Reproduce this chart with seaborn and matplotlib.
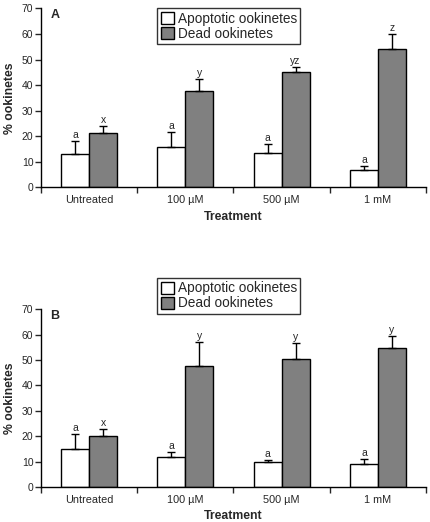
import pandas as pd
import matplotlib
matplotlib.use("Agg")
import matplotlib.pyplot as plt
import seaborn as sns

# data
treatments = ["Untreated", "100 µM", "500 µM", "1 mM"]
series = ["Apoptotic ookinetes", "Dead ookinetes"]

apop_a = [13.0, 15.6, 13.4, 6.8]
apop_a_err = [5.2, 6.0, 3.5, 1.5]
dead_a = [21.4, 37.6, 45.3, 54.2]
dead_a_err = [2.5, 4.8, 1.7, 5.8]
apop_a_letters = ["a", "a", "a", "a"]
dead_a_letters = ["x", "y", "yz", "z"]

apop_b = [14.8, 11.8, 9.9, 9.2]
apop_b_err = [6.2, 2.0, 0.6, 1.7]
dead_b = [20.2, 47.6, 50.4, 54.9]
dead_b_err = [2.6, 9.6, 6.2, 4.6]
apop_b_letters = ["a", "a", "a", "a"]
dead_b_letters = ["x", "y", "y", "y"]

yticks = [0, 10, 20, 30, 40, 50, 60, 70]

sns.set_style("ticks")
plt.rcParams["font.family"] = ["Liberation Sans", "DejaVu Sans"]


def panel(ax, apop, apop_err, dead, dead_err, apop_let, dead_let, tag, leg_top):
    df = pd.DataFrame({
        "Treatment": treatments * 2,
        "type": [series[0]] * 4 + [series[1]] * 4,
        "value": apop + dead,
    })
    sns.barplot(data=df, x="Treatment", y="value", hue="type",
                palette={series[0]: "white", series[1]: "#808080"},
                edgecolor="black", linewidth=1.0, width=0.58, gap=0,
                errorbar=None, saturation=1, ax=ax)

    errs = [apop_err, dead_err]
    lets = [apop_let, dead_let]
    for cont, e_list, l_list in zip(ax.containers, errs, lets):
        for bar, e, lab in zip(cont, e_list, l_list):
            x = bar.get_x() + bar.get_width() / 2
            h = bar.get_height()
            ax.errorbar(x, h, yerr=[[0], [e]], color="black", capsize=3,
                        elinewidth=1.0, capthick=1.0, zorder=1)
            ax.text(x, h + e + 0.4, lab, ha="center", va="bottom", fontsize=7.5)

    ax.set_xlim(-0.5, 3.5)
    ax.set_ylim(0, 70)
    ax.set_yticks(yticks)
    ax.set_xticks(range(4))
    ax.set_xticklabels(treatments)
    ax.set_xticks([-0.5, 0.5, 1.5, 2.5, 3.5], minor=True)
    ax.tick_params(axis="x", which="major", length=0, pad=5.5, labelsize=7.8)
    ax.tick_params(axis="x", which="minor", length=4, width=1, direction="out")
    ax.tick_params(axis="y", length=4, width=1, labelsize=7.5, pad=1.5)
    for s in ["top", "right"]:
        ax.spines[s].set_visible(False)
    for s in ["left", "bottom"]:
        ax.spines[s].set_linewidth(1.0)
        ax.spines[s].set_color("black")

    ax.set_xlabel("Treatment", fontweight="bold", fontsize=8.8, labelpad=4)
    ax.set_ylabel("% ookinetes", fontweight="bold", fontsize=8.8, labelpad=4)
    ax.text(0.025, 0.965, tag, transform=ax.transAxes, fontweight="bold",
            fontsize=9, ha="left", va="center")

    leg = ax.legend(loc="upper left", bbox_to_anchor=(0.302, leg_top),
                    frameon=True, fancybox=False, fontsize=9.8,
                    handlelength=0.95, handleheight=0.95, handletextpad=0.3,
                    borderpad=0.25, labelspacing=0.08, borderaxespad=0)
    leg.get_frame().set_edgecolor("black")
    leg.get_frame().set_linewidth(1.0)
    leg.set_title(None)


fig = plt.figure(figsize=(4.3, 5.22), dpi=100)
ax_a = fig.add_axes([0.0953, 0.641, 0.8954, 0.343])
ax_b = fig.add_axes([0.0953, 0.067, 0.8954, 0.3405])

panel(ax_a, apop_a, apop_a_err, dead_a, dead_a_err,
      apop_a_letters, dead_a_letters, "A", 1.0)
panel(ax_b, apop_b, apop_b_err, dead_b, dead_b_err,
      apop_b_letters, dead_b_letters, "B", 1.176)

fig.savefig("out.png", dpi=100)
